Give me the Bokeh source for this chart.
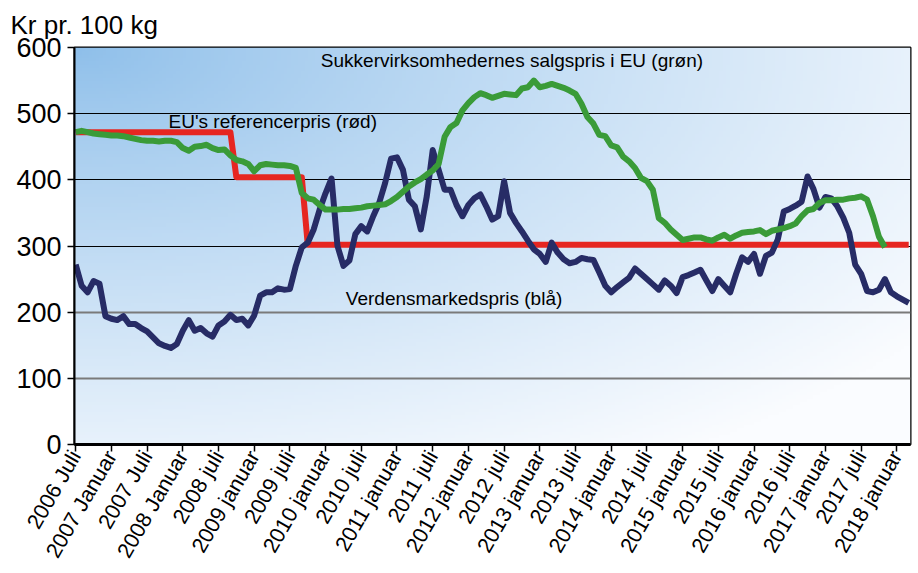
import numpy as np
from bokeh.plotting import figure
from bokeh.models import Range1d, FixedTicker, Grid
from bokeh.core.properties import value
from bokeh.embed import file_html
from bokeh.resources import INLINE

# month index 0 = juli 2006
tick_labels = ["2006 Juli", "2007 Januar", "2007 Juli", "2008 Januar", "2008 juli",
               "2009 januar", "2009 juli", "2010 januar", "2010 juli", "2011 januar",
               "2011 juli", "2012 januar", "2012 juli", "2013 januar", "2013 juli",
               "2014 januar", "2014 juli", "2015 januar", "2015 juli", "2016 januar",
               "2016 juli", "2017 januar", "2017 juli", "2018 januar"]
tick_months = [6 * i for i in range(len(tick_labels))]

# Verdensmarkedspris (blå), monthly Jul 2006 - Mar 2018
world_price = [272, 240, 230, 247, 243, 194, 190, 188, 194, 182,
               182, 176, 171, 162, 153, 149, 146, 152, 172, 188,
               172, 176, 168, 163, 180, 186, 196, 188, 190, 180,
               195, 225, 230, 230, 236, 234, 235, 270, 298, 305,
               325, 355, 380, 402, 300, 270, 278, 318, 330, 322,
               345, 365, 395, 432, 434, 415, 370, 360, 325, 375,
               445, 415, 385, 385, 362, 345, 362, 372, 378, 360,
               340, 345, 398, 350, 335, 322, 308, 295, 288, 276,
               305, 290, 280, 274, 276, 282, 280, 279, 260, 240,
               230, 238, 245, 252, 266, 258, 250, 242, 234, 248,
               240, 229, 253, 256, 260, 264, 248, 232, 250, 240,
               230, 258, 283, 276, 288, 258, 285, 290, 310, 352,
               356, 361, 367, 405, 386, 358, 374, 372, 360, 343,
               320, 272, 258, 232, 230, 234, 250, 230, 224, 219,
               214]

# Sukkervirksomhedernes salgspris i EU (grøn), Jul 2006 - Nov 2017
eu_sales_price = [472, 474, 472, 470, 469, 468, 467, 467, 466, 464,
                  462, 460, 459, 459, 458, 459, 459, 457, 448, 444,
                  450, 451, 453, 448, 445, 446, 437, 430, 428, 424,
                  413, 422, 424, 423, 422, 422, 421, 418, 380, 372,
                  370, 362, 355, 355, 355, 356, 356, 357, 358, 360,
                  361, 362, 363, 368, 374, 382, 390, 396, 401, 408,
                  414, 424, 465, 480, 486, 505, 516, 525, 531, 528,
                  524, 527, 530, 529, 528, 538, 540, 550, 540, 542,
                  545, 542, 539, 535, 530, 515, 495, 485, 468, 466,
                  452, 449, 435, 428, 418, 403, 398, 385, 342, 335,
                  325, 317, 309, 311, 313, 313, 310, 308, 313, 317,
                  311, 316, 320, 321, 322, 324, 318, 323, 325, 327,
                  330, 334, 345, 354, 356, 365, 369, 369, 370, 370,
                  372, 373, 375, 370, 345, 314, 298]

# EU's referencepris (rød), Jul 2006 - Mar 2018
ref_price = [472] * 27 + [404] * 12 + [302] * 102

m_world = list(range(len(world_price)))
m_sales = list(range(len(eu_sales_price)))
m_ref = list(range(len(ref_price)))

FONT = "Liberation Sans"
W, H = 918, 573

p = figure(width=W, height=H, output_backend="svg", toolbar_location=None,
           x_range=Range1d(-0.2, 140.3), y_range=Range1d(0, 600),
           min_border_left=74, min_border_right=8, min_border_top=47,
           min_border_bottom=129, background_fill_color="white",
           border_fill_color="white", title="Kr pr. 100 kg")

p.title.align = "left"
p.title.vertical_align = "top"
p.title.offset = -64
p.title.text_font = FONT
p.title.text_font_size = "26px"
p.title.text_font_style = "normal"
p.title.text_color = "black"
p.title.standoff = 12

# gradient background (top-left blue fading to white)
ny, nx = 120, 240
u = np.linspace(0, 1, nx)[None, :]
v = 1 - np.linspace(0, 1, ny)[:, None]
t = np.clip(np.sqrt(u ** 2 + v ** 2) / 1.25, 0, 1) ** 0.85
c0 = np.array([142, 191, 234])
c1 = np.array([250, 252, 255])
img = np.zeros((ny, nx), dtype=np.uint32)
view = img.view(dtype=np.uint8).reshape((ny, nx, 4))
for k in range(3):
    view[:, :, k] = (c0[k] + (c1[k] - c0[k]) * t).astype(np.uint8)
view[:, :, 3] = 255
p.image_rgba(image=[img], x=-0.2, y=0, dw=140.5, dh=600, level="image")

p.xgrid.visible = False
p.ygrid.ticker = FixedTicker(ticks=[300, 400, 500])
p.ygrid.grid_line_color = "black"
p.ygrid.grid_line_width = 1.2
p.ygrid.level = "underlay"
g2 = Grid(dimension=1, ticker=FixedTicker(ticks=[100, 200]),
          grid_line_color="#7a7a7a", grid_line_width=2)
p.add_layout(g2)

p.outline_line_color = "black"
p.outline_line_width = 2

lw = 6
p.line(m_ref, ref_price, line_color="#e62621", line_width=lw, line_join="round")
p.line(m_world, world_price, line_color="#272c66", line_width=lw, line_join="round")
p.line(m_sales, eu_sales_price, line_color="#3a9b38", line_width=lw, line_join="round")

p.xaxis.ticker = FixedTicker(ticks=tick_months)
p.xaxis.major_label_overrides = {m: lab for m, lab in zip(tick_months, tick_labels)}
p.xaxis.major_label_orientation = np.deg2rad(60)
p.xaxis.major_label_text_font = FONT
p.xaxis.major_label_text_font_size = "21.5px"
p.xaxis.major_label_text_color = "black"
p.xaxis.major_label_standoff = 1
p.xaxis.axis_line_width = 3
p.xaxis.axis_line_color = "black"
p.xaxis.major_tick_out = 7
p.xaxis.major_tick_in = 0
p.xaxis.major_tick_line_width = 1.5
p.xaxis.minor_tick_line_color = None

p.yaxis.ticker = FixedTicker(ticks=[0, 100, 200, 300, 400, 500, 600])
p.yaxis.major_label_text_font = FONT
p.yaxis.major_label_text_font_size = "27px"
p.yaxis.major_label_text_color = "black"
p.yaxis.major_label_standoff = 6
p.yaxis.axis_line_width = 2
p.yaxis.axis_line_color = "black"
p.yaxis.major_tick_out = 7
p.yaxis.major_tick_in = 0
p.yaxis.major_tick_line_width = 1.5
p.yaxis.minor_tick_line_color = None

p.text(x=[41.2], y=[580], text=["Sukkervirksomhedernes salgspris i EU (grøn)"],
       text_font=value(FONT), text_font_size="19px", text_baseline="middle",
       text_color="black")
p.text(x=[15.6], y=[488], text=["EU's referencerpris (rød)"],
       text_font=value(FONT), text_font_size="19px", text_baseline="middle",
       text_color="black")
p.text(x=[45.4], y=[221], text=["Verdensmarkedspris (blå)"],
       text_font=value(FONT), text_font_size="19px", text_baseline="middle",
       text_color="black")

open("out.html", "w").write(file_html(p, INLINE))
